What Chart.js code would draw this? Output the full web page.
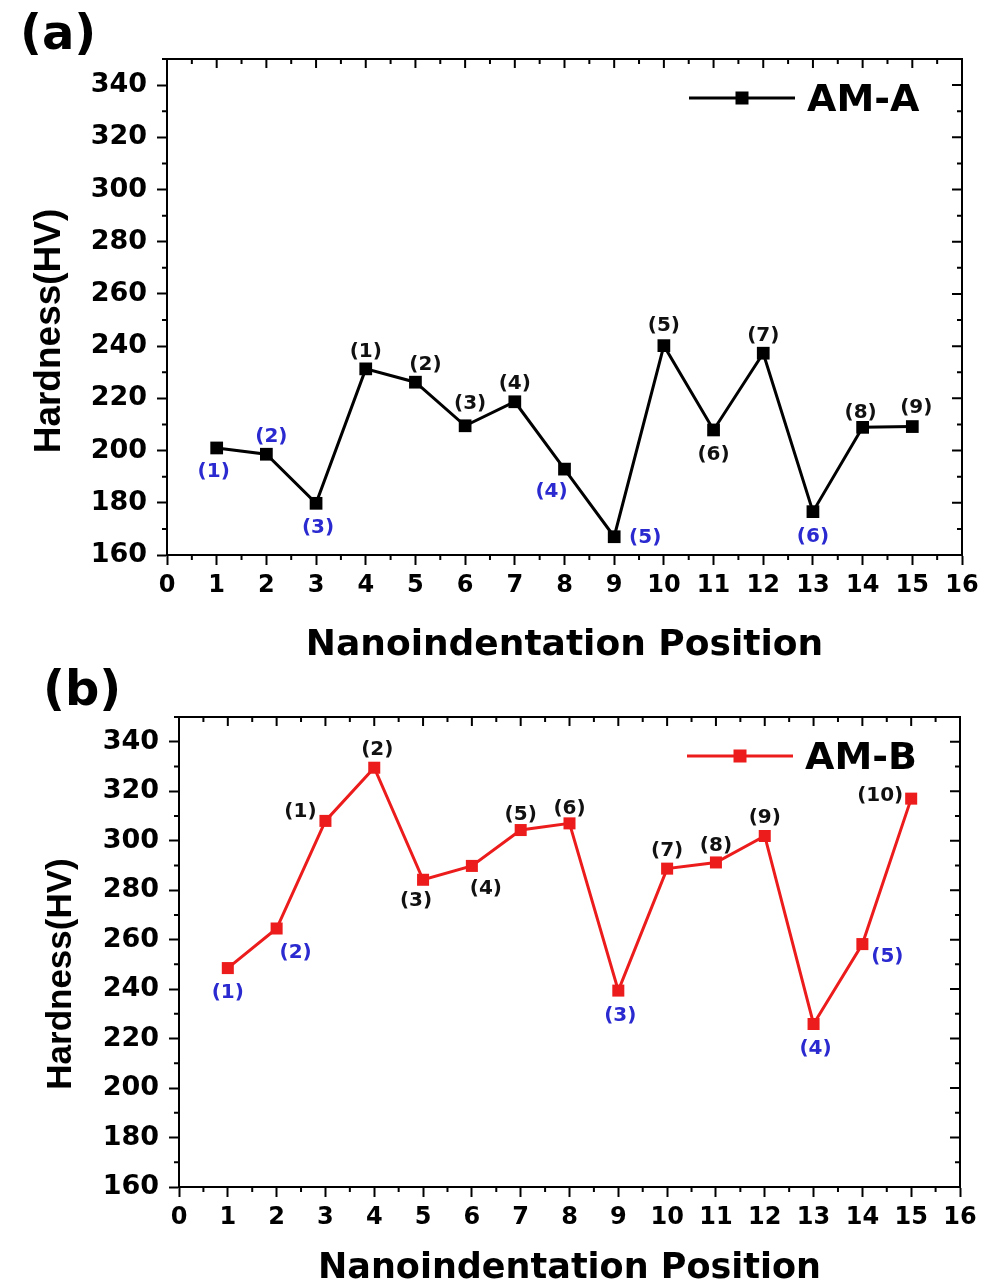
<!DOCTYPE html>
<html><head><meta charset="utf-8">
<script src="https://cdn.jsdelivr.net/npm/chart.js@4.4.0/dist/chart.umd.min.js"></script>
<style>
html,body{margin:0;padding:0;background:#fff;}
#wrap{position:relative;width:995px;height:1285px;overflow:hidden;}
.panel{position:absolute;left:0;}
</style></head><body>
<div id="wrap">
<div class="panel" style="top:0;width:995px;height:660px"><canvas id="ca" width="995" height="660"></canvas></div>
<div class="panel" style="top:660px;width:995px;height:625px"><canvas id="cb" width="995" height="625"></canvas></div>
</div>
<script>
// ---------------- DATA ----------------
const positions = [1, 2, 3, 4, 5, 6, 7, 8, 9, 10, 11, 12, 13, 14, 15];
const hardnessA = [201, 198.6, 179.8, 231.3, 226.2, 209.5, 218.7, 192.9, 167, 240.2, 207.9, 237.3, 176.6, 208.9, 209.2];
const hardnessB = [248.5, 264.5, 308, 329.5, 284.2, 289.8, 304.3, 307, 239.4, 288.7, 291.2, 301.9, 225.9, 258.2, 317];
const pointLabelsA = ['(1)','(2)','(3)','(1)','(2)','(3)','(4)','(4)','(5)','(5)','(6)','(7)','(6)','(8)','(9)'];
const labelGroupA = [1, 1, 1, 0, 0, 0, 0, 1, 1, 0, 0, 0, 1, 0, 0];
const pointLabelsB = ['(1)','(2)','(1)','(2)','(3)','(4)','(5)','(6)','(3)','(7)','(8)','(9)','(4)','(5)','(10)'];
const labelGroupB = [1, 1, 0, 0, 0, 0, 0, 0, 1, 0, 0, 0, 1, 1, 0];
const xTicks = [0, 1, 2, 3, 4, 5, 6, 7, 8, 9, 10, 11, 12, 13, 14, 15, 16];
const yTicks = [160, 180, 200, 220, 240, 260, 280, 300, 320, 340];
const seriesNames = ['AM-A', 'AM-B'];
const panelNames = ['(a)', '(b)'];
const axisTitleX = 'Nanoindentation Position';
const axisTitleY = 'Hardness(HV)';

// ---------------- STYLE ----------------
const FONT = '"DejaVu Sans", sans-serif';
const FONT_Y = '"Liberation Sans", Arial, sans-serif';
const groupColors = ['#111111', '#2a2ad0'];

const styleA = {
  pad: {top: 59, right: 33, left: 0, bottom: 0}, yWidth: 167, xHeight: 105,
  color: '#000000', pointRadius: 9,
  labelOffsets: [[-3,24],[5,-17],[2,24],[0,-17],[10,-17],[5,-22],[0,-18],[-13,23],[31,1],[0,-20],[0,25],[0,-17],[0,25],[-2,-15],[4,-19]],
  panel: {x: 20, y: 49}, yTitle: {dx: -117, dy: 24, size: 37}, xTitle: {dy: 100, size: 36}
};
const styleB = {
  pad: {top: 57, right: 35, left: 0, bottom: 0}, yWidth: 179, xHeight: 98,
  color: '#ec1c1c', pointRadius: 8.5,
  labelOffsets: [[0,25],[19,24],[-25,-9],[3,-18],[-7,21],[14,23],[0,-15],[0,-15],[2,25],[0,-18],[0,-17],[0,-18],[2,25],[25,13],[-31,-3]],
  panel: {x: 43, y: 45}, yTitle: {dx: -118, dy: 22, size: 35}, xTitle: {dy: 91, size: 35}
};

const minorOf = arr => arr.slice(1).map((v, i) => (v + arr[i]) / 2);

const decoPlugin = {
  id: 'deco',
  afterDatasetsDraw(chart, args, o) {
    const ctx = chart.ctx;
    const meta = chart.getDatasetMeta(0);
    ctx.save();
    ctx.font = 'bold 20px ' + FONT;
    ctx.textAlign = 'center';
    ctx.textBaseline = 'middle';
    meta.data.forEach((pt, i) => {
      const off = o.style.labelOffsets[i];
      ctx.fillStyle = groupColors[o.groups[i]];
      ctx.fillText(o.labels[i], pt.x + off[0], pt.y + off[1]);
    });
    ctx.restore();
  },
  afterDraw(chart, args, o) {
    const ctx = chart.ctx, a = chart.chartArea;
    const xs = chart.scales.x, ys = chart.scales.y;
    const st = o.style;
    ctx.save();
    ctx.strokeStyle = '#000';
    ctx.lineWidth = 2;
    ctx.strokeRect(a.left, a.top, a.right - a.left, a.bottom - a.top);
    ctx.beginPath();
    minorOf(xTicks).forEach(v => {
      const px = xs.getPixelForValue(v);
      ctx.moveTo(px, a.bottom); ctx.lineTo(px, a.bottom + 5);
      ctx.moveTo(px, a.top); ctx.lineTo(px, a.top + 5);
    });
    xTicks.forEach(v => {
      const px = xs.getPixelForValue(v);
      ctx.moveTo(px, a.top); ctx.lineTo(px, a.top + 9);
    });
    minorOf(yTicks).concat([yTicks[yTicks.length - 1] + 10]).forEach(v => {
      const py = ys.getPixelForValue(v);
      ctx.moveTo(a.left, py); ctx.lineTo(a.left - 5, py);
      ctx.moveTo(a.right, py); ctx.lineTo(a.right - 5, py);
    });
    yTicks.forEach(v => {
      const py = ys.getPixelForValue(v);
      ctx.moveTo(a.right, py); ctx.lineTo(a.right - 10, py);
    });
    ctx.stroke();

    // legend
    const ds = chart.data.datasets[0];
    const ly = a.top + 39;
    ctx.strokeStyle = ds.borderColor;
    ctx.lineWidth = 3;
    ctx.beginPath();
    ctx.moveTo(a.right - 273, ly); ctx.lineTo(a.right - 167, ly);
    ctx.stroke();
    ctx.fillStyle = ds.borderColor;
    ctx.fillRect(a.right - 220 - 6.5, ly - 6.5, 13, 13);
    ctx.fillStyle = '#000';
    ctx.font = 'bold 38px ' + FONT;
    ctx.textAlign = 'left';
    ctx.textBaseline = 'alphabetic';
    ctx.fillText(ds.label, a.right - 155, a.top + 52);

    // panel letter
    ctx.font = 'bold 48px ' + FONT;
    ctx.fillText(o.panel, st.panel.x, st.panel.y);

    // axis titles
    ctx.textAlign = 'center';
    ctx.font = 'bold ' + st.xTitle.size + 'px ' + FONT;
    ctx.fillText(axisTitleX, (a.left + a.right) / 2, a.bottom + st.xTitle.dy);
    ctx.translate(a.left + st.yTitle.dx, (a.top + a.bottom) / 2 + st.yTitle.dy);
    ctx.rotate(-Math.PI / 2);
    ctx.textBaseline = 'middle';
    ctx.font = 'bold ' + st.yTitle.size + 'px ' + FONT_Y;
    ctx.fillText(axisTitleY, 0, 0);
    ctx.restore();
  }
};

function makeChart(id, values, name, labels, groups, panel, st) {
  return new Chart(document.getElementById(id), {
    type: 'line',
    data: {
      datasets: [{
        label: name,
        data: positions.map((x, i) => ({x: x, y: values[i]})),
        borderColor: st.color,
        backgroundColor: st.color,
        borderWidth: 3,
        pointStyle: 'rect',
        pointRadius: st.pointRadius,
        pointBackgroundColor: st.color,
        pointBorderWidth: 0,
        tension: 0,
        fill: false
      }]
    },
    options: {
      responsive: false,
      animation: false,
      devicePixelRatio: 1,
      layout: {padding: st.pad},
      plugins: {
        legend: {display: false},
        tooltip: {enabled: false},
        deco: {style: st, labels: labels, groups: groups, panel: panel}
      },
      scales: {
        x: {
          type: 'linear', min: 0, max: 16,
          afterBuildTicks: s => { s.ticks = xTicks.map(v => ({value: v})); },
          afterFit: s => { s.height = st.xHeight; },
          grid: {display: true, drawOnChartArea: false, drawTicks: true, tickLength: 10, tickWidth: 2, tickColor: '#000'},
          border: {display: true, color: '#000', width: 2},
          ticks: {autoSkip: false, maxRotation: 0, padding: 6, color: '#000', font: {family: FONT, size: 24, weight: 'bold'}}
        },
        y: {
          type: 'linear', min: 160, max: 350,
          afterBuildTicks: s => { s.ticks = yTicks.map(v => ({value: v})); },
          afterFit: s => { s.width = st.yWidth; },
          grid: {display: true, drawOnChartArea: false, drawTicks: true, tickLength: 10, tickWidth: 2, tickColor: '#000'},
          border: {display: true, color: '#000', width: 2},
          ticks: {autoSkip: false, padding: 10, color: '#000', font: {family: FONT, size: 27, weight: 'bold'}}
        }
      }
    },
    plugins: [decoPlugin]
  });
}

makeChart('ca', hardnessA, seriesNames[0], pointLabelsA, labelGroupA, panelNames[0], styleA);
makeChart('cb', hardnessB, seriesNames[1], pointLabelsB, labelGroupB, panelNames[1], styleB);
</script>
</body></html>
